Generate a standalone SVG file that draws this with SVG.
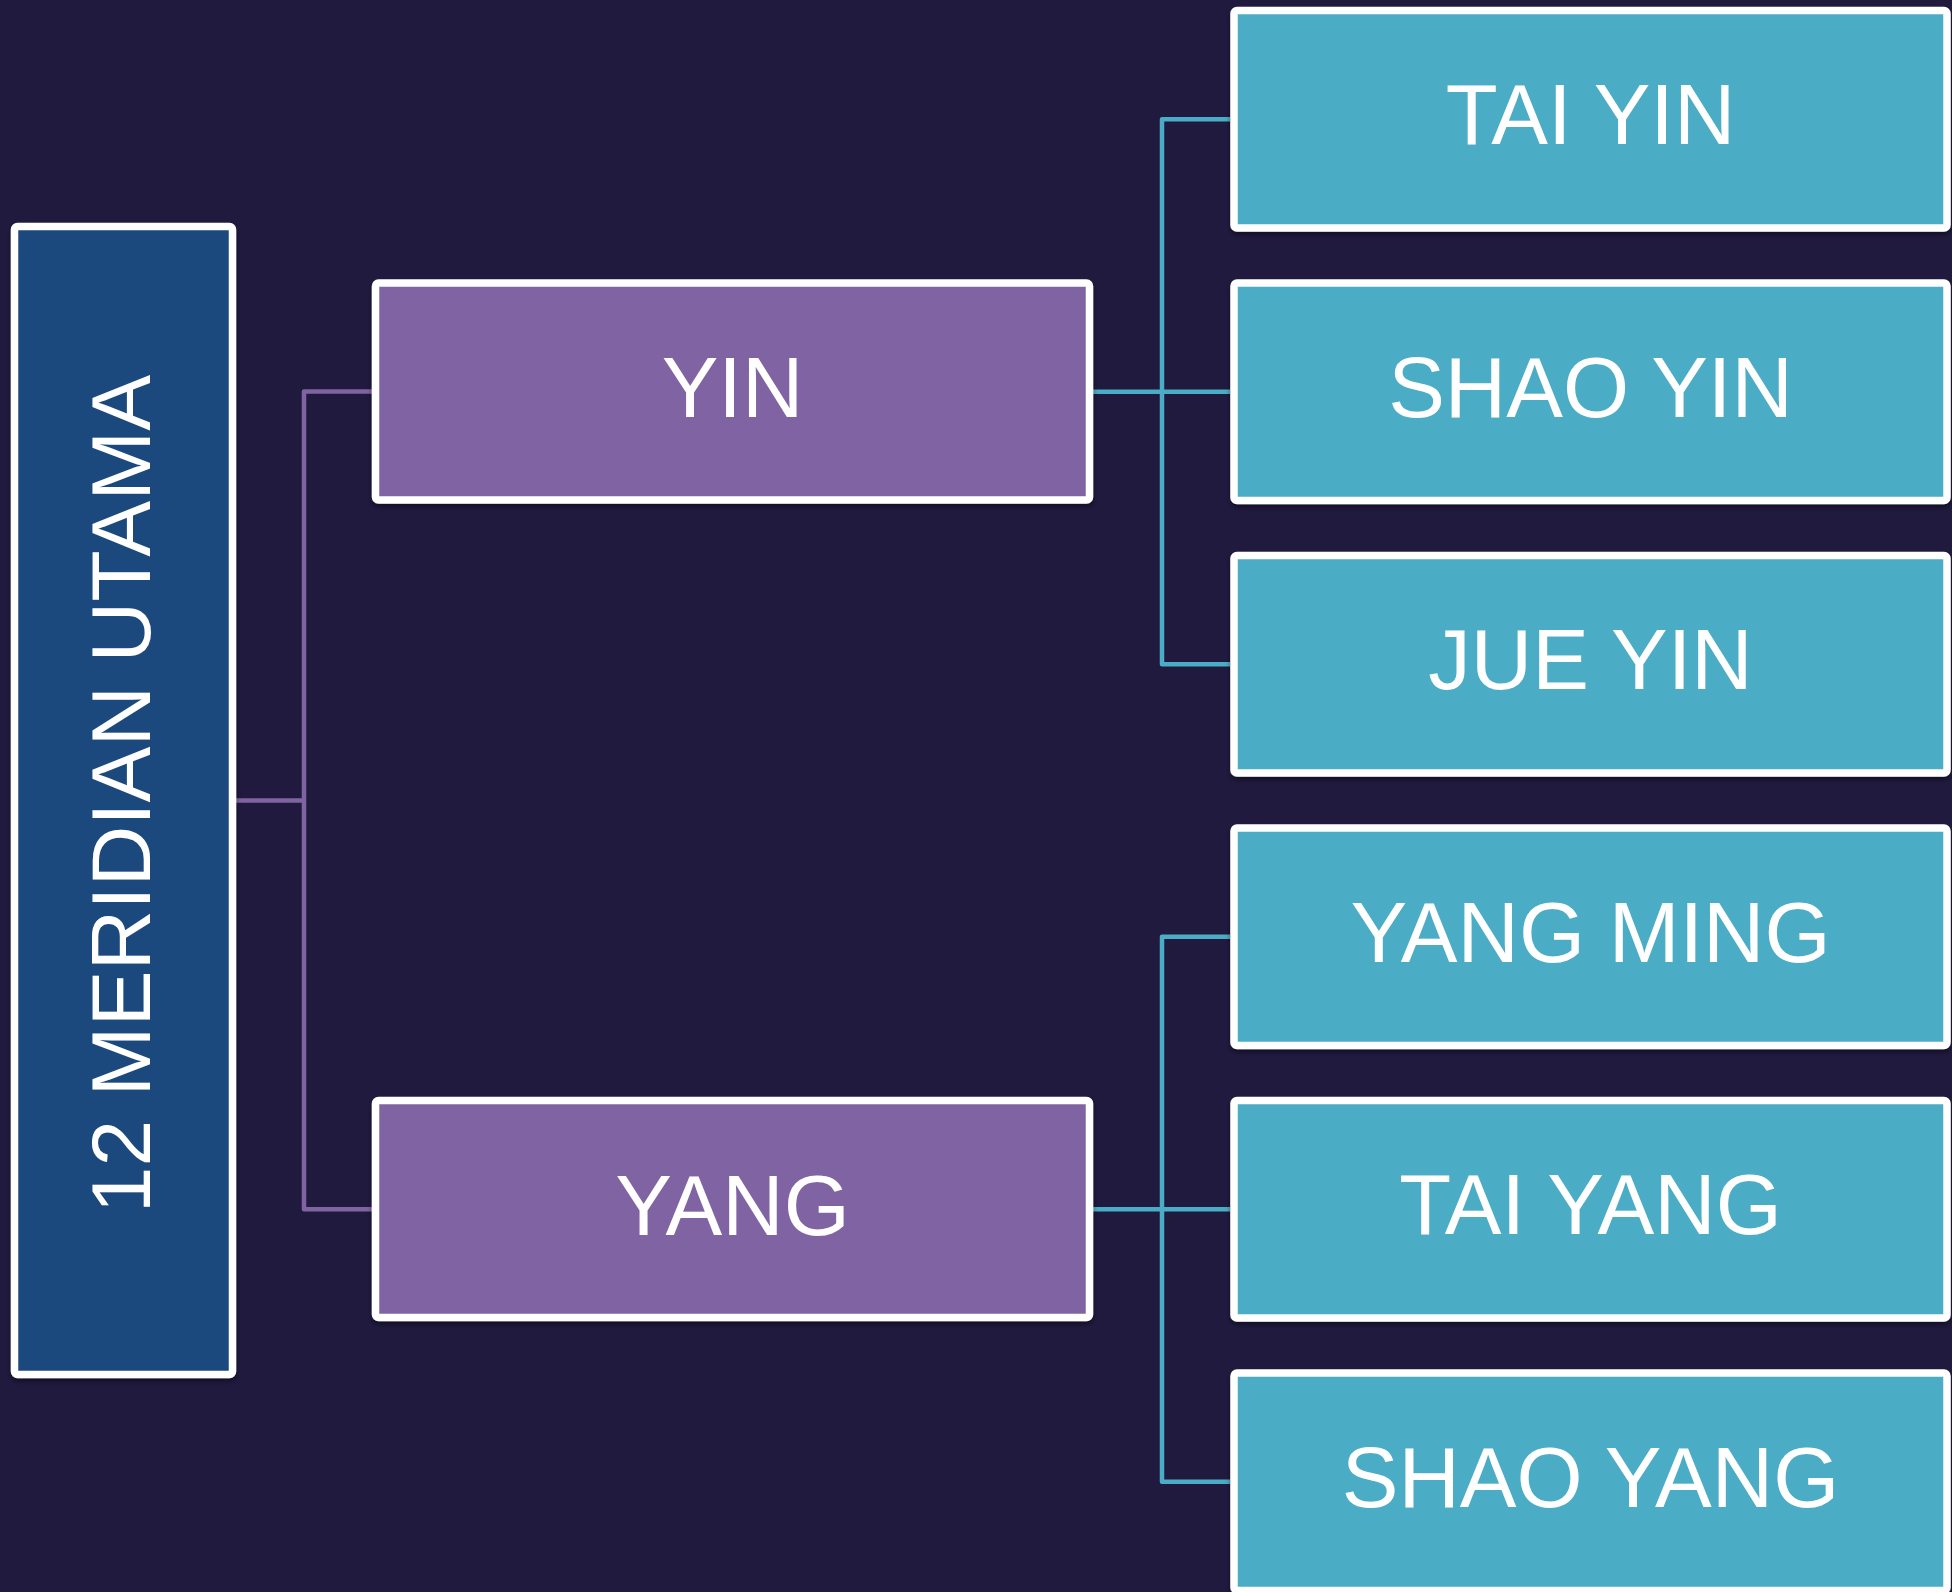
<svg xmlns="http://www.w3.org/2000/svg" width="1952" height="1592" viewBox="0 0 1952 1592">
  <defs>
    <style>
      .box { stroke: #ffffff; stroke-width: 7.5; filter: url(#sh); }
      .root { fill: #1f497d; }
      .mid { fill: #8064a2; }
      .leaf { fill: #4bacc6; }
      .lbl { font-family: "Liberation Sans", Arial, sans-serif; font-size: 85px; fill: #ffffff; text-anchor: middle; }
      .rl { font-size: 84px; }
      .cp { fill: none; stroke: #8064a2; stroke-width: 4.5; stroke-linejoin: round; }
      .ct { fill: none; stroke: #4bacc6; stroke-width: 4.5; stroke-linejoin: round; }
    </style>
    <filter id="sh" x="-5%" y="-5%" width="110%" height="115%">
      <feDropShadow dx="0" dy="3" stdDeviation="2.5" flood-color="#000000" flood-opacity="0.45"/>
    </filter>
  </defs>
  <rect x="0" y="0" width="1952" height="1592" fill="#201a3f"/>

  <g id="connectors">
    <polyline class="cp" points="236,800.5 304,800.5"/>
    <polyline class="cp" points="372,391.5 304,391.5 304,1209.25 372,1209.25"/>
    <polyline class="ct" points="1093,391.75 1230,391.75"/>
    <polyline class="ct" points="1230,119.25 1162,119.25 1162,664.25 1230,664.25"/>
    <polyline class="ct" points="1093,1209.25 1230,1209.25"/>
    <polyline class="ct" points="1230,936.75 1162,936.75 1162,1481.75 1230,1481.75"/>
  </g>

  <g id="node-root">
    <rect class="box root" x="14.5" y="226.5" width="218" height="1148" rx="3"/>
    <text class="lbl rl" transform="translate(150,794) rotate(-90)">12 MERIDIAN UTAMA</text>
  </g>

  <g id="node-yin">
    <rect class="box mid" x="375.5" y="283" width="714" height="217" rx="3"/>
    <text class="lbl" x="732.5" y="417">YIN</text>
  </g>
  <g id="node-yang">
    <rect class="box mid" x="375.5" y="1100.5" width="714" height="217" rx="3"/>
    <text class="lbl" x="732.5" y="1234.5">YANG</text>
  </g>

  <g id="node-tai-yin">
    <rect class="box leaf" x="1234" y="10.5" width="713" height="217.5" rx="3"/>
    <text class="lbl" x="1590.5" y="144">TAI YIN</text>
  </g>
  <g id="node-shao-yin">
    <rect class="box leaf" x="1234" y="283" width="713" height="217.5" rx="3"/>
    <text class="lbl" x="1590.5" y="416.5">SHAO YIN</text>
  </g>
  <g id="node-jue-yin">
    <rect class="box leaf" x="1234" y="555.5" width="713" height="217.5" rx="3"/>
    <text class="lbl" x="1590.5" y="689">JUE YIN</text>
  </g>
  <g id="node-yang-ming">
    <rect class="box leaf" x="1234" y="828" width="713" height="217.5" rx="3"/>
    <text class="lbl" x="1590.5" y="961.5">YANG MING</text>
  </g>
  <g id="node-tai-yang">
    <rect class="box leaf" x="1234" y="1100.5" width="713" height="217.5" rx="3"/>
    <text class="lbl" x="1590.5" y="1234">TAI YANG</text>
  </g>
  <g id="node-shao-yang">
    <rect class="box leaf" x="1234" y="1373" width="713" height="217.5" rx="3"/>
    <text class="lbl" x="1590.5" y="1506.5">SHAO YANG</text>
  </g>
</svg>
